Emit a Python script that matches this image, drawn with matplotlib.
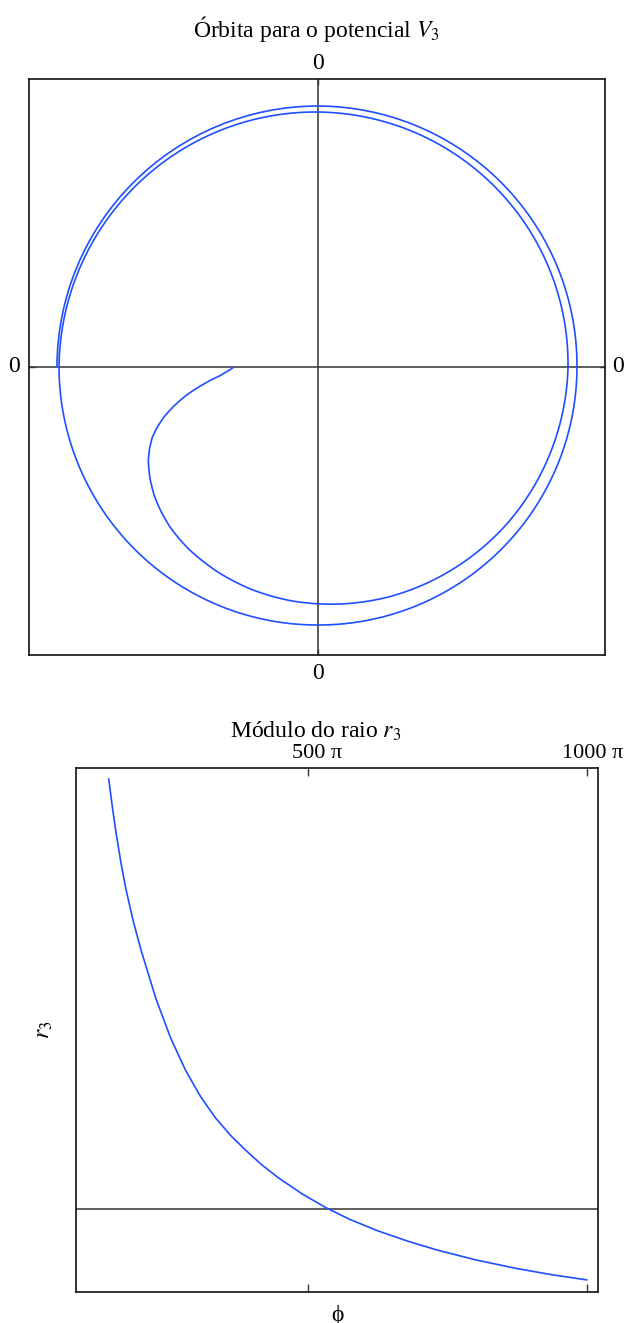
import numpy as np
import matplotlib
matplotlib.use("Agg")
import matplotlib.pyplot as plt
from matplotlib.path import Path
from matplotlib.patches import PathPatch
from matplotlib.projections.polar import PolarTransform

plt.rcParams['font.family'] = ['Liberation Serif', 'DejaVu Serif']
plt.rcParams['mathtext.fontset'] = 'stix'

# Orbit in the potential V3: polar angle (degrees, cumulative) and radius
orbit_theta_deg = [180, 182, 185, 188, 192, 195, 198, 200.5, 203, 206, 209,
                   213.5, 218, 222.5, 227, 231, 235, 244, 253, 263, 273,
                   287, 320, 360, 450, 540, 630, 720, 810, 900]
orbit_r = [84, 88.5, 98, 113, 134, 148.5, 162, 171.5, 180, 187.5, 194,
           201.5, 208, 213.2, 217.7, 220.8, 223.5, 228.2, 232, 235.2, 237.5,
           240.5, 245.5, 250, 255, 259, 258, 259, 261, 261]

# Radius modulus r3 as a function of phi (phi given in units of pi)
phi_over_pi = [141.6, 148.2, 154.8, 163.8, 172.7, 186.1, 199.5, 226.3,
               253.0, 279.8, 306.6, 333.4, 360.2, 385.7, 416.1, 446.4,
               489.3, 532.1, 575.0, 625.0, 678.6, 732.1, 803.6, 875.0,
               937.5, 1000.0]
r3_values = [6.177, 5.834, 5.527, 5.159, 4.843, 4.454, 4.120, 3.533,
             3.055, 2.667, 2.352, 2.096, 1.888, 1.719, 1.533, 1.375,
             1.180, 1.014, 0.873, 0.736, 0.612, 0.504, 0.382, 0.282,
             0.208, 0.146]
r3_axis_level = 1.0
phi_ticks = [500, 1000]
phi_tick_labels = ["500 π", "1000 π"]

W, H = 624, 1323
fig = plt.figure(figsize=(W / 100, H / 100), dpi=100)

CURVE = '#1f4fff'
AXIS = '#333333'
FS = 17

def box(l, t, r, b):
    return [l / W, 1 - b / H, (r - l) / W, (b - t) / H]

def style_frame(ax):
    for s in ax.spines.values():
        s.set_linewidth(1.2)
        s.set_color('#111111')

# ---- Orbit panel ----
ax1 = fig.add_axes(box(29, 79, 605, 655))
ax1.set_xlim(-289, 287)
ax1.set_ylim(-288, 288)
ax1.set_autoscale_on(False)
ax1.axhline(0, color=AXIS, lw=1.1, zorder=1)
ax1.axvline(0, color=AXIS, lw=1.1, zorder=1)
# the (theta, r) samples go through the polar transform, which renders
# each segment as a spiral arc
orbit_path = Path(np.column_stack([np.deg2rad(orbit_theta_deg), orbit_r]),
                  _interpolation_steps=60)
polar_to_data = PolarTransform(apply_theta_transforms=False) + ax1.transData
ax1.add_patch(PathPatch(orbit_path, transform=polar_to_data, fill=False,
                        edgecolor=CURVE, lw=1.2, zorder=2))
ax1.set_xticks([0])
ax1.set_yticks([0])
ax1.tick_params(top=True, right=True, labelbottom=False, labelleft=False,
                direction='in', length=4, width=1, color=AXIS)
style_frame(ax1)

# frame labels at the origin on all four sides
lab = dict(ha='center', va='center', fontsize=FS, textcoords='offset pixels')
ax1.annotate('0', xy=(0, 1), xycoords=('data', 'axes fraction'),
             xytext=(0, 15), **lab)
ax1.annotate('0', xy=(0, 0), xycoords=('data', 'axes fraction'),
             xytext=(0, -19), **lab)
ax1.annotate('0', xy=(0, 0), xycoords=('axes fraction', 'data'),
             xytext=(-15, 0), **lab)
ax1.annotate('0', xy=(1, 0), xycoords=('axes fraction', 'data'),
             xytext=(13, 0), **lab)

fig.text(316 / W, 1 - 29 / H, "Órbita para o potencial $V_3$",
         ha='center', va='center', fontsize=FS)

# ---- Radius panel ----
ax2 = fig.add_axes(box(76, 768, 598, 1292))
ax2.set_xlim(82.8, 1020.3)
ax2.set_ylim(0, 6.31)
ax2.axhline(r3_axis_level, color=AXIS, lw=1.1, zorder=1)
ax2.plot(phi_over_pi, r3_values, color=CURVE, lw=1.2, zorder=2)
ax2.set_xticks(phi_ticks)
ax2.set_yticks([])
ax2.tick_params(axis='x', top=True, bottom=True, labelbottom=False,
                direction='in', length=6, width=1, color=AXIS)
style_frame(ax2)
tick_lab = dict(lab, fontsize=16)
for v, t, dx in zip(phi_ticks, phi_tick_labels, [9, 6]):
    ax2.annotate(t, xy=(v, 1), xycoords=('data', 'axes fraction'),
                 xytext=(dx, 14), **tick_lab)

fig.text(316 / W, 1 - 731 / H, "Módulo do raio $r_3$",
         ha='center', va='center', fontsize=FS)
fig.text(45 / W, 1 - 1030 / H, "$r_3$", rotation=90,
         ha='center', va='center', fontsize=FS)
fig.text(337 / W, 1 - 1315 / H, "ϕ", ha='center', va='center', fontsize=FS)

fig.savefig("out.png", dpi=100)
